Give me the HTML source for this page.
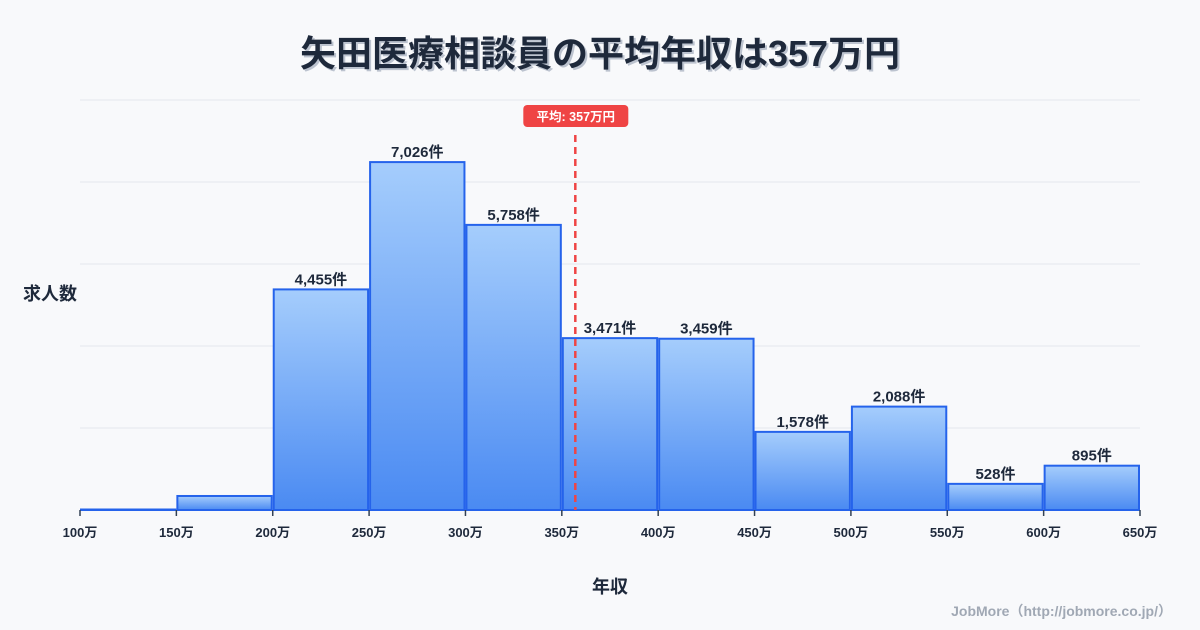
<!DOCTYPE html>
<html><head><meta charset="utf-8">
<style>
html,body{margin:0;padding:0;background:#f8f9fb;}
svg{display:block;font-family:"Liberation Sans","Noto Sans CJK JP",sans-serif;}
</style></head>
<body>
<svg id="chart" width="1200" height="630" viewBox="0 0 1200 630">
<defs>
<linearGradient id="bg" x1="0" y1="0" x2="0" y2="1">
<stop offset="0" stop-color="#a5cdfc"/><stop offset="1" stop-color="#4a8af2"/>
</linearGradient>
</defs>
<rect width="1200" height="630" fill="#f8f9fb"/>
<text x="602" y="68" text-anchor="middle" font-size="36" font-weight="bold" fill="#bcc3cf">矢田医療相談員の平均年収は357万円</text>
<text x="600" y="66" text-anchor="middle" font-size="36" font-weight="bold" fill="#1e293b">矢田医療相談員の平均年収は357万円</text>
<text x="50" y="300" text-anchor="middle" font-size="18" font-weight="bold" fill="#1e293b">求人数</text>
<text x="610" y="593" text-anchor="middle" font-size="18" font-weight="bold" fill="#1e293b">年収</text>
<text x="1172" y="616" text-anchor="end" font-size="14" font-weight="bold" fill="#a0a8b4">JobMore（http://jobmore.co.jp/）</text>
<g id="grid"></g><g id="bars"></g><g id="axis"></g><g id="avg"></g>
</svg>
<script>
const binEdges = [100,150,200,250,300,350,400,450,500,550,600,650];
const counts = [10,283,4455,7026,5758,3471,3459,1578,2088,528,895];
const showLabel = [false,false,true,true,true,true,true,true,true,true,true];
const avgSalary = 357;
const NS="http://www.w3.org/2000/svg";
const x0=80,x1=1140,yBase=510,yTop=100,yMax=8280;
const xs=v=>x0+(v-100)/(650-100)*(x1-x0);
const ys=v=>yBase-v/yMax*(yBase-yTop);
function mk(tag,attrs,parent,text){const e=document.createElementNS(NS,tag);for(const k in attrs)e.setAttribute(k,attrs[k]);if(text!==undefined)e.textContent=text;parent.appendChild(e);return e;}
const grid=document.getElementById('grid'),bars=document.getElementById('bars'),axis=document.getElementById('axis'),avg=document.getElementById('avg');
for(let i=0;i<=5;i++){const y=yBase-i*(yBase-yTop)/5;
 const l=mk('line',{x1:x0,x2:x1,y1:y,y2:y,stroke:'#e3e7ed','stroke-width':1},grid);
 
 }
counts.forEach((c,i)=>{
 const xa=xs(binEdges[i])+1,xb=xs(binEdges[i+1])-1,yt=ys(c);
 const r=mk('rect',{x:xa,y:yt,width:xb-xa,height:Math.max(yBase-yt,0.5),fill:'url(#bg)',stroke:'#2563eb','stroke-width':2},bars);
 
 
 if(showLabel[i]){const t=mk('text',{x:(xa+xb)/2,y:yt-5,'text-anchor':'middle','font-size':15,'font-weight':'bold',fill:'#1e293b'},bars,c.toLocaleString('en-US')+'件');
 
 }
});
binEdges.forEach(v=>{const x=xs(v);
 const tk=mk('line',{x1:x,x2:x,y1:yBase,y2:yBase+6,stroke:'#334155','stroke-width':1.5},axis);
 
 
 const t=mk('text',{x:x,y:537,'text-anchor':'middle','font-size':13,'font-weight':'bold',fill:'#1e293b'},axis,v+'万');
 
 });
const ax=xs(avgSalary);
const dl=mk('line',{x1:ax,x2:ax,y1:135,y2:yBase,stroke:'#ef4444','stroke-width':2.5,'stroke-dasharray':'7,5'},avg);


const br=mk('rect',{x:ax-52,y:105,width:105,height:22,rx:4,fill:'#ef4444'},avg);


const bt=mk('text',{x:ax+0.5,y:121,'text-anchor':'middle','font-size':12.5,'font-weight':'bold',fill:'#fff'},avg,'平均: '+avgSalary+'万円');


</script>
</body></html>
